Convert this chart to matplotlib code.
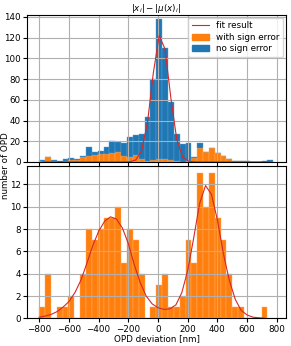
import numpy as np
import matplotlib.pyplot as plt
from matplotlib.patches import Patch
from matplotlib.lines import Line2D

# histogram bins (same width for both panels)
bin_start = -800
bin_width = 39.4

# top panel: |x_i| - |mu(x)_i|
top_with_err = [1, 5, 1, 0, 1, 2, 2, 5, 6, 7, 8, 8, 9, 10, 6, 5, 7, 3, 1, 2,
                3, 3, 2, 1, 0, 1, 4, 13, 10, 13, 9, 6, 3, 1, 1, 1, 0, 0, 0, 0]
top_no_err = [1, 0, 1, 1, 2, 2, 1, 1, 8, 3, 3, 6, 11, 9, 12, 19, 19, 24, 42, 78,
              135, 107, 56, 26, 17, 17, 1, 5, 0, 0, 0, 0, 0, 0, 0, 0, 0, 0, 1, 2]
# fit curve evaluated at bin centres
top_fit = [0, 0, 0, 0, 0, 0, 0, 0, 0, 0, 0, 0, 0, 0, 0, 0.2, 1.9, 10.9, 38, 86,
           122, 109, 61.5, 21.9, 5.0, 0.7, 0.1, 0, 0, 0, 0, 0, 0, 0, 0, 0, 0, 0, 0, 0]

# bottom panel: OPD deviation of the sign-error cases
bot_counts = [1, 4, 0, 1, 1, 2, 0, 4, 8, 7, 8, 9, 9, 10, 5, 8, 7, 4, 0, 1,
              3, 4, 1, 1, 2, 7, 5, 13, 10, 13, 9, 7, 4, 1, 1, 0, 0, 0, 1]
bot_fit_x = list(range(-800, 721, 40))
bot_fit = [0.1, 0.2, 0.35, 0.6, 1.0, 1.5, 2.3, 3.4, 4.9, 6.5, 7.8, 8.7, 9.1, 8.9,
           8.1, 6.7, 4.8, 3.2, 2.0, 1.3, 0.95, 0.8, 0.85, 1.2, 2.3, 4.3, 7.2, 10.3,
           11.9, 11.1, 8.8, 5.8, 3.4, 1.7, 0.7, 0.3, 0.1, 0.05, 0.0]

blue = '#1f77b4'
orange = '#ff7f0e'
red = '#d62728'
fs = 6.3

fig = plt.figure(figsize=(2.91, 3.46), dpi=100)
ax1 = fig.add_axes([0.093, 0.532, 0.890, 0.425])
ax2 = fig.add_axes([0.093, 0.080, 0.890, 0.440], sharex=ax1)

# top panel
edges_top = bin_start + bin_width * np.arange(len(top_no_err))
centers_top = edges_top + bin_width / 2
ax1.bar(edges_top, top_with_err, width=bin_width, align='edge', color=orange,
        edgecolor='#ffb066', linewidth=0.3)
ax1.bar(edges_top, top_no_err, width=bin_width, align='edge', bottom=top_with_err,
        color=blue, edgecolor='#5fa2d4', linewidth=0.3)
ax1.plot(centers_top, top_fit, color=red, linewidth=0.8)
ax1.set_ylim(0, 142)
ax1.set_yticks(range(0, 141, 20))
ax1.set_title(r'$|x_i| - |\mu(x)_i|$', fontsize=fs, pad=2)
ax1.tick_params(labelbottom=False)

handles = [Line2D([], [], color=red, linewidth=0.8),
           Patch(color=orange), Patch(color=blue)]
ax1.legend(handles, ['fit result', 'with sign error', 'no sign error'],
           loc='upper right', fontsize=fs, handlelength=2.0, borderpad=0.4,
           labelspacing=0.3, borderaxespad=0.3)

# bottom panel
edges_bot = bin_start + bin_width * np.arange(len(bot_counts))
ax2.bar(edges_bot, bot_counts, width=bin_width, align='edge', color=orange,
        edgecolor='#ffb066', linewidth=0.3)
ax2.plot(bot_fit_x, bot_fit, color=red, linewidth=0.8)
ax2.set_ylim(0, 13.65)
ax2.set_yticks(range(0, 13, 2))
ax2.set_xlim(-882, 862)
ax2.set_xticks(range(-800, 801, 200))
ax2.set_xlabel('OPD deviation [nm]', fontsize=fs, labelpad=0.5)

for ax in (ax1, ax2):
    ax.grid(True)
    ax.tick_params(labelsize=fs, pad=1.5, length=3)

fig.text(0.003, 0.52, 'number of OPD', rotation=90, ha='left', va='center',
         fontsize=fs)

fig.savefig('out.png', dpi=100)
